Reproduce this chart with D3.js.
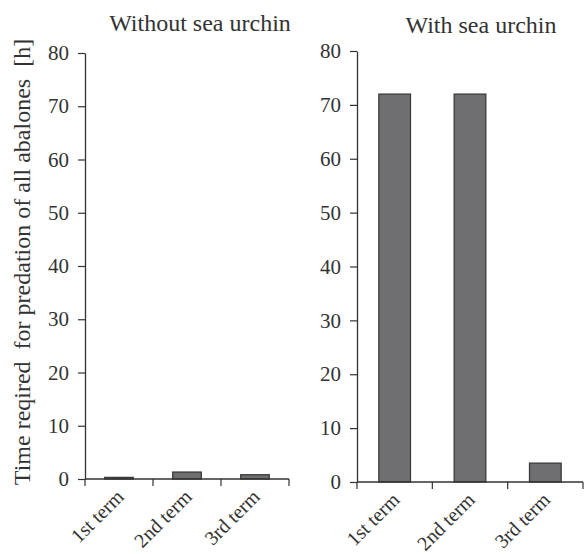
<!DOCTYPE html>
<html>
<head>
<meta charset="utf-8">
<script src="https://cdn.jsdelivr.net/npm/d3@7"></script>
<style>
  html, body { margin: 0; padding: 0; background: #fff; }
  svg { display: block; }
</style>
</head>
<body>
<svg id="chart" width="584" height="554"></svg>
<script>
// Categories and values (hours until all abalones were eaten)
const terms = ["1st term", "2nd term", "3rd term"];
const withoutUrchin = [0.3, 1.3, 0.8];
const withUrchin = [72, 72, 3.5];
const panelTitles = ["Without sea urchin", "With sea urchin"];
const yTicks = [0, 10, 20, 30, 40, 50, 60, 70, 80];
const yTitle = "Time reqired  for predation of all abalones  [h]";

const svg = d3.select("#chart");
const ink = "#333";
const serif = "'Liberation Serif', 'Times New Roman', serif";

// Panel frames: x range of the axis, y range for 0..80
const panels = [
  { title: panelTitles[0], values: withoutUrchin, x0: 85, x1: 289, yBottom: 479, yTop: 53, titleX: 200, titleY: 31 },
  { title: panelTitles[1], values: withUrchin, x0: 357, x1: 583, yBottom: 482, yTop: 51, titleX: 481, titleY: 33 }
];

panels.forEach(p => {
  const g = svg.append("g");
  const y = d3.scaleLinear().domain([0, 80]).range([p.yBottom, p.yTop]);
  const x = d3.scaleBand().domain(terms).range([p.x0, p.x1])
    .paddingInner(0.58).paddingOuter(0.29);
  const step = x.step();

  // y axis
  const yAxis = d3.axisLeft(y).tickValues(yTicks).tickSize(7).tickPadding(9).tickSizeOuter(0);
  const ya = g.append("g").attr("transform", `translate(${p.x0},0)`).call(yAxis)
    .attr("font-family", null).attr("font-size", null);
  ya.select(".domain").attr("stroke", ink).attr("stroke-width", 1.3);
  ya.selectAll(".tick line").attr("stroke", ink).attr("stroke-width", 1.2);
  ya.selectAll(".tick text")
    .style("font-family", serif).style("font-size", "21px").style("fill", ink);

  // bars
  g.selectAll("rect.bar").data(p.values).join("rect")
    .attr("class", "bar")
    .attr("x", (d, i) => x(terms[i]))
    .attr("width", x.bandwidth())
    .attr("y", d => y(d))
    .attr("height", d => y(0) - y(d))
    .attr("fill", "#6f6f72")
    .attr("stroke", "#3a3a3a")
    .attr("stroke-width", 1.3);

  // x axis line with ticks at category boundaries
  g.append("line")
    .attr("x1", p.x0).attr("x2", p.x1)
    .attr("y1", y(0)).attr("y2", y(0))
    .attr("stroke", ink).attr("stroke-width", 1.3);
  const boundaries = d3.range(terms.length + 1).map(i => p.x0 + i * step);
  g.selectAll("line.xtick").data(boundaries).join("line")
    .attr("class", "xtick")
    .attr("x1", d => d).attr("x2", d => d)
    .attr("y1", y(0)).attr("y2", y(0) + 7)
    .attr("stroke", ink).attr("stroke-width", 1.2);

  // rotated category labels
  g.selectAll("text.xlab").data(terms).join("text")
    .attr("class", "xlab")
    .attr("text-anchor", "end")
    .style("font-family", serif).style("font-size", "20px").style("fill", ink)
    .attr("transform", d => `translate(${x(d) + x.bandwidth() / 2 + 6},${y(0) + 19}) rotate(-45)`)
    .text(d => d);

  // panel title
  g.append("text")
    .attr("x", p.titleX).attr("y", p.titleY)
    .attr("text-anchor", "middle")
    .style("font-family", serif).style("font-size", "24px").style("fill", ink)
    .text(p.title);
});

// shared y-axis title
svg.append("text")
  .attr("transform", "translate(30,262) rotate(-90)")
  .attr("text-anchor", "middle")
  .style("font-family", serif).style("font-size", "24px").style("fill", ink)
  .style("white-space", "pre")
  .text(yTitle);
</script>
</body>
</html>
